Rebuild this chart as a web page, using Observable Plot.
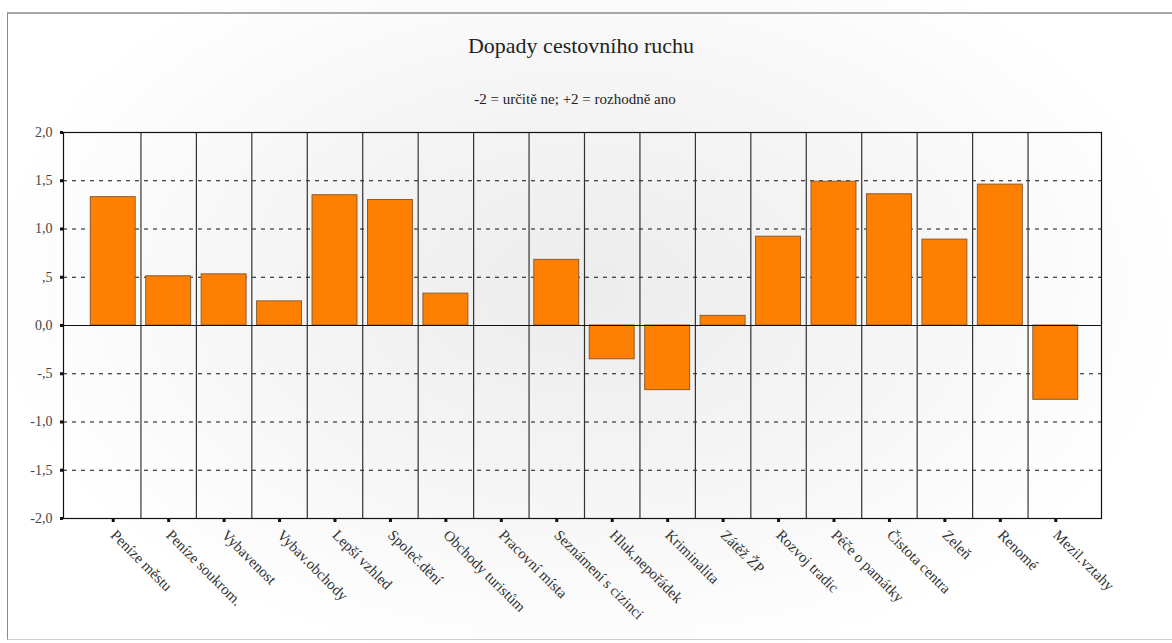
<!DOCTYPE html>
<html><head><meta charset="utf-8">
<script src="https://cdn.jsdelivr.net/npm/d3@7"></script>
<script src="https://cdn.jsdelivr.net/npm/@observablehq/plot@0.6"></script>
<style>
html,body{margin:0;padding:0;background:#fff;}
#page{position:relative;width:1172px;height:643px;overflow:hidden;
 background: radial-gradient(ellipse 60% 70% at 50% 45%, #ececec 0%, #f5f5f5 45%, #ffffff 85%);
 font-family:"Liberation Serif","DejaVu Serif",serif;}
#border{position:absolute;left:7px;top:12px;width:1180px;height:628px;border-top:2px solid #a8a8a8;border-left:1px solid #8a8a8a;border-bottom:1px solid #d0d0d0;box-sizing:border-box;}
#title{position:absolute;top:33px;left:-5px;width:1172px;text-align:center;font-size:22px;color:#222;}
#subtitle{position:absolute;top:91px;left:-11px;width:1172px;text-align:center;font-size:15px;color:#222;}
#chart{position:absolute;left:0;top:120px;}
</style>
</head><body>
<div id="page">
  <div id="border"></div>
  <div id="title">Dopady cestovního ruchu</div>
  <div id="subtitle">-2 = určitě ne; +2 = rozhodně ano</div>
  <div id="chart"></div>
</div>
<script>
const categories = ["Peníze městu","Peníze soukrom.","Vybavenost","Vybav.obchody","Lepší vzhled","Společ.dění","Obchody turistům","Pracovní místa","Seznámení s cizinci","Hluk,nepořádek","Kriminalita","Zátěž ŽP","Rozvoj tradic","Péče o památky","Čistota centra","Zeleň","Renomé","Mezil.vztahy"];
const values = [1.33,0.51,0.53,0.25,1.35,1.30,0.33,0.00,0.68,-0.35,-0.67,0.10,0.92,1.49,1.36,0.89,1.46,-0.77];
const yTicks = [2,1.5,1,0.5,0,-0.5,-1,-1.5,-2];
const yTickLabels = ["2,0","1,5","1,0",",5","0,0","-,5","-1,0","-1,5","-2,0"];
const gridValues = [1.5,1,0.5,-0.5,-1,-1.5];

const data = categories.map((c,i)=>({c, v: values[i]}));
const font = "Liberation Serif, DejaVu Serif, serif";

function build(sepDx){
  return Plot.plot({
    width: 1172, height: 523,
    marginTop: 12, marginBottom: 125, marginLeft: 63, marginRight: 71,
    style: {fontFamily: font, fontSize: "14px", color: "#222", background: "transparent"},
    x: {domain: categories, type: "band", round: false, paddingInner: 0.19, paddingOuter: 0.095, insetLeft: 22, insetRight: 18, label: null},
    y: {domain: [-2, 2], label: null},
    marks: [
      Plot.ruleY(gridValues, {stroke: "#111", strokeWidth: 1.2, strokeDasharray: "4,5"}),
      Plot.ruleX(categories.slice(1), {x: d => d, dx: sepDx, stroke: "#333", strokeWidth: 1.2}),
      Plot.barY(data, {x: "c", y: "v", fill: "#ff8000", stroke: "#8c5a2c", strokeWidth: 1}),
      Plot.ruleY([0], {stroke: "#111", strokeWidth: 1.2}),
      Plot.frame({stroke: "#111", strokeWidth: 1.2}),
      Plot.axisY({ticks: yTicks, tickFormat: (d) => yTickLabels[yTicks.indexOf(d)], tickSize: 3, strokeWidth: 3, tickPadding: 8, fontSize: 14, fill: "#444", stroke: "#111"}),
      Plot.axisX({tickSize: 4, strokeWidth: 3, tickPadding: 10, tickRotate: 45, textAnchor: "start", fontSize: 15, fill: "#333", stroke: "#111"})
    ]
  });
}
const probe = build(0);
const step = probe.scale("x").step;
const chart = build(-step / 2);
document.getElementById("chart").appendChild(chart);
</script>
</body></html>
